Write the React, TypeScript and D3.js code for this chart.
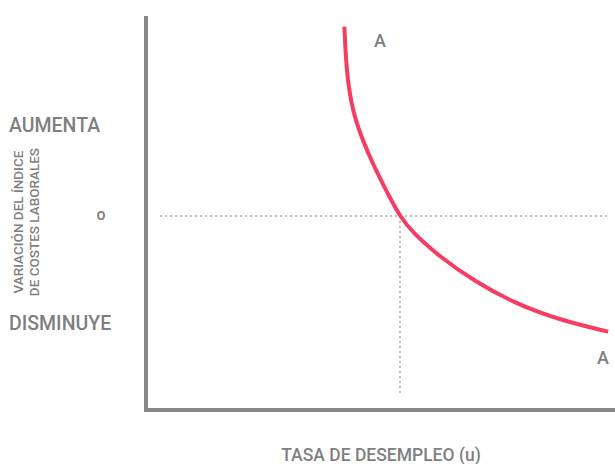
import { useEffect, useRef } from 'react'
import * as d3 from 'd3'

// unemployment rate (x) vs change in labour cost index (y), curve A-A
const CURVE_U = [8.46, 8.5, 8.6, 8.89, 9.64, 10.45, 10.83, 11.34, 12.58, 14.03, 15.74, 17.65, 19.71]
const CURVE_V = [7.81, 6.9, 5.5, 3.95, 2.19, 0.66, 0, -0.66, -1.73, -2.7, -3.61, -4.29, -4.77]
const EQ_U = 10.83
const EQ_V = 0
const Y_LABELS = [
  { text: 'AUMENTA', v: 3.46 },
  { text: 'DISMINUYE', v: -4.7 },
]
const CURVE_LABELS = [
  { text: 'A', u: 9.98, v: 6.97 },
  { text: 'A', u: 19.49, v: -6.1 },
]

const W = 615
const H = 464
const GREY = '#7f7f7f'
const RED = '#f73c62'
const FONT = 'Roboto, "Noto Sans", sans-serif'

export default function App() {
  const ref = useRef<SVGSVGElement | null>(null)

  useEffect(() => {
    if (!ref.current) return
    const svg = d3.select(ref.current)
    svg.selectAll('*').remove()

    const x = d3.scaleLinear().domain([0, 20]).range([146, 615])
    const y = d3.scaleLinear().domain([-8, 8]).range([410, 22])

    // dotted guides
    svg.append('line')
      .attr('x1', x(0.6)).attr('x2', x(19.8))
      .attr('y1', y(EQ_V)).attr('y2', y(EQ_V))
      .attr('stroke', '#bdbdbd').attr('stroke-width', 2).attr('stroke-dasharray', '2,3')
    svg.append('line')
      .attr('x1', x(EQ_U)).attr('x2', x(EQ_U))
      .attr('y1', y(EQ_V)).attr('y2', y(-7.4))
      .attr('stroke', '#bdbdbd').attr('stroke-width', 2).attr('stroke-dasharray', '2,3')

    // axes
    svg.append('path')
      .attr('d', `M${x(0)},${y(8.25)} V${y(-8)} H${x(20)}`)
      .attr('fill', 'none').attr('stroke', '#888').attr('stroke-width', 4)

    // curve, smoothed through the read points
    const pts = CURVE_U.map((u, i) => [u, CURVE_V[i]] as [number, number])
    const line = d3.line<[number, number]>()
      .x((d) => x(d[0]))
      .y((d) => y(d[1]))
      .curve(d3.curveBasis)
    svg.append('path')
      .attr('d', line(pts) as string)
      .attr('fill', 'none').attr('stroke', RED).attr('stroke-width', 4)

    // curve labels
    CURVE_LABELS.forEach((l) => {
      svg.append('text').attr('x', x(l.u)).attr('y', y(l.v))
        .attr('text-anchor', 'middle').attr('fill', GREY).attr('font-size', 18)
        .attr('font-weight', 500).attr('font-family', FONT).text(l.text)
    })

    // y side labels
    Y_LABELS.forEach((l) => {
      svg.append('text').attr('x', 9).attr('y', y(l.v))
        .attr('fill', GREY).attr('font-size', 19.5).attr('font-weight', 500)
        .attr('font-family', FONT).text(l.text)
    })
    svg.append('text').attr('x', 101).attr('y', y(0) + 4)
      .attr('text-anchor', 'middle').attr('fill', GREY).attr('font-size', 16)
      .attr('font-family', FONT).attr('font-weight', 500).text('o')

    const yt = svg.append('text')
      .attr('transform', `translate(23,${y(-0.25)}) rotate(-90)`)
      .attr('text-anchor', 'middle').attr('fill', GREY).attr('font-size', 13.5)
      .attr('font-weight', 500).attr('font-family', FONT)
    yt.append('tspan').attr('x', 0).attr('dy', 0).text('VARIACIÓN DEL ÍNDICE')
    yt.append('tspan').attr('x', 0).attr('dy', 15.5).text('DE COSTES LABORALES')

    // x title
    svg.append('text').attr('x', 381).attr('y', 461)
      .attr('text-anchor', 'middle').attr('fill', GREY).attr('font-size', 17.5)
      .attr('font-weight', 500).attr('font-family', FONT).text('TASA DE DESEMPLEO (u)')
  }, [])

  return (
    <svg
      ref={ref}
      width={W}
      height={H}
      viewBox={`0 0 ${W} ${H}`}
      style={{ position: 'absolute', left: 0, top: 0, background: '#fff' }}
    />
  )
}
